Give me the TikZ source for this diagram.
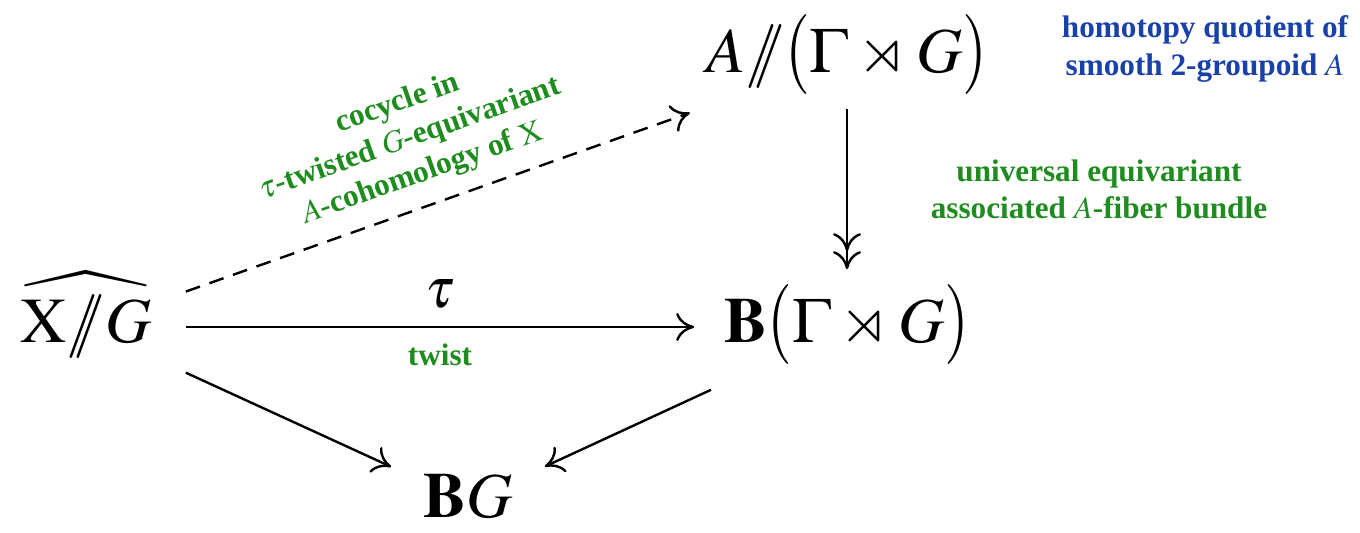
\documentclass[tikz,border=0pt]{standalone}
\usepackage{amssymb}
\usepackage{mathptmx}
\usepackage[no-math]{fontspec}
\setmainfont{Liberation Serif}
\usepackage{xcolor}
\usepackage{graphicx}
\usetikzlibrary{arrows.meta}
\definecolor{CDGreen}{RGB}{30, 140, 30}
\definecolor{CDBlue}{RGB}{25, 65, 170}
\newcommand{\hquot}{\mathord{/\mkern-7mu/}}
\newcommand{\lpar}{\mathopen{\raisebox{-0.5pt}{\scalebox{1}[1.25]{$($}}}}
\newcommand{\rpar}{\mathclose{\raisebox{-0.5pt}{\scalebox{1}[1.25]{$)$}}}}

\begin{document}
\begin{tikzpicture}[x=0.25pt,y=0.25pt,
    obj/.style={inner sep=0pt, text height=10pt, text depth=2pt,
      font=\fontsize{16}{19}\selectfont},
    lbl/.style={text=CDGreen, align=center, inner sep=2pt,
      font=\fontsize{7.8}{9.3}\selectfont\bfseries},
    note/.style={text=CDBlue, align=center,
      font=\fontsize{7.8}{9.3}\selectfont\bfseries},
    cdarrow/.style={line width=0.6pt, >={Computer Modern Rightarrow[length=4.5pt,width=7pt]}}]
  \path[use as bounding box] (0,0) rectangle (1360,533);

  % Objects
  \node[obj, minimum width=49.5pt, minimum height=27.5pt] (xg) at (86,206)
    {$\widehat{\mathrm{X}\hquot G}$};
  \node[obj, minimum width=78.5pt, minimum height=25.5pt] (agg) at (847,476)
    {$A\hquot\lpar\Gamma\rtimes G\rpar$};
  \node[obj, minimum width=76pt, minimum height=28.5pt] (bgg) at (847,206)
    {$\mathbf{B}\lpar\Gamma\rtimes G\rpar$};
  \node[obj, minimum width=38pt, minimum height=20pt] (bg) at (468,31)
    {$\mathbf{B}G$};

  % Arrows
  \draw[cdarrow, ->, dash pattern=on 3.75pt off 2.5pt, shorten >=3pt] (xg) --
    node[lbl, sloped, above=2pt, pos=0.48] (cocycle) {cocycle in\\$\tau$-twisted $G$-equivariant\\$A$-cohomology of $\mathrm{X}$}
    (agg);
  \draw[cdarrow, ->] (xg) --
    node[above=1pt, font=\fontsize{14}{16}\selectfont] (tau) {$\tau$}
    node[lbl, below=2pt] (twist) {twist} (bgg);
  \draw[cdarrow, ->>] (agg) -- (bgg);
  \draw[cdarrow, ->] (xg) -- (bg);
  \draw[cdarrow, ->, shorten <=3pt] (bgg) -- (bg);

  % Side notes
  \node[lbl] (bundle) at (1099,344) {universal equivariant\\associated $A$-fiber bundle};
  \node[note] (hquotnote) at (1205,484) {homotopy quotient of\\smooth 2-groupoid $A$};
\end{tikzpicture}
\end{document}
